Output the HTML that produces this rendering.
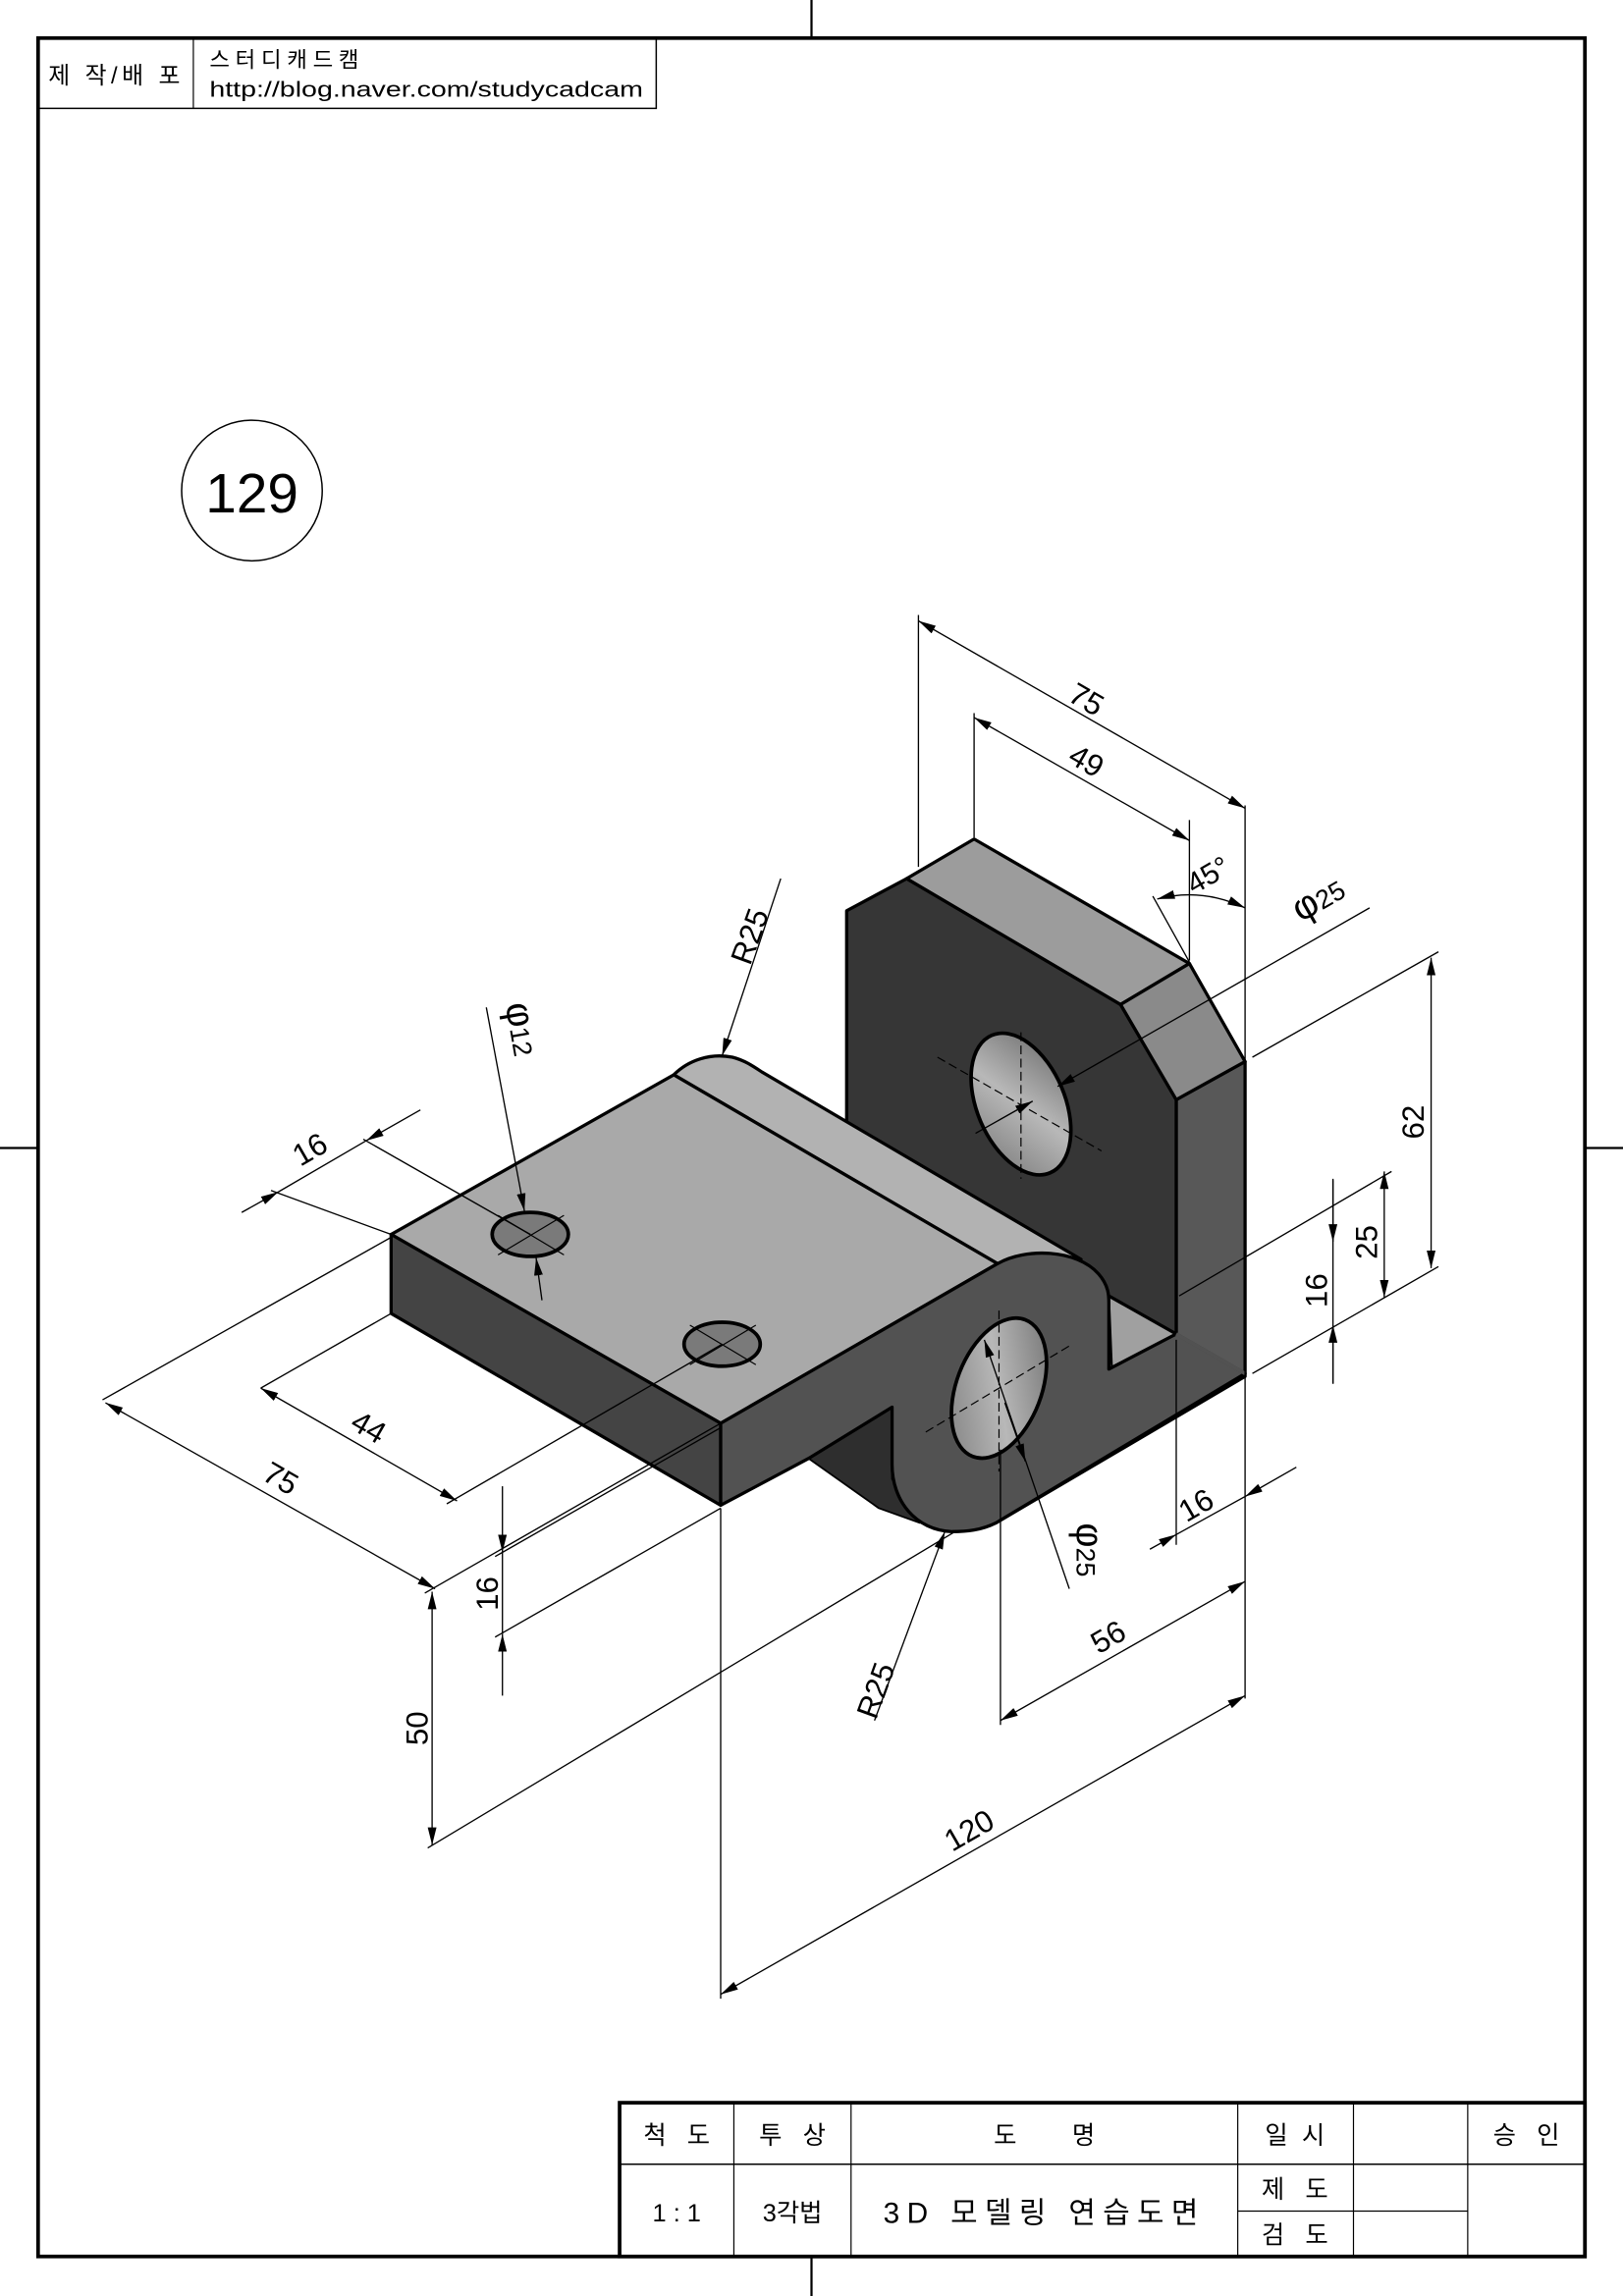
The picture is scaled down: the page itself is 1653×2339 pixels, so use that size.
<!DOCTYPE html>
<html><head><meta charset="utf-8"><style>
html,body{margin:0;padding:0;background:#fff}
svg{display:block}
text{font-family:"Liberation Sans","Noto Sans CJK KR",sans-serif;fill:#000}
</style></head><body>
<svg width="1653" height="2339" viewBox="0 0 1108 1568" preserveAspectRatio="none" xmlns="http://www.w3.org/2000/svg">
<defs>
<marker id="a" viewBox="0 0 12 6" refX="12" refY="3" markerWidth="12" markerHeight="6" markerUnits="userSpaceOnUse" orient="auto-start-reverse"><path d="M0,0 L12,3 L0,6 Z" fill="#000"/></marker>
<linearGradient id="h" x1="0" y1="0" x2="1" y2="1"><stop offset="0" stop-color="#6a6a6a"/><stop offset="0.5" stop-color="#b8b8b8"/><stop offset="1" stop-color="#7a7a7a"/></linearGradient>
</defs>
<!-- frame -->
<rect x="26" y="26" width="1056" height="1515" fill="none" stroke="#000" stroke-width="2.5"/>
<line x1="554" y1="0" x2="554" y2="26" stroke="#000" stroke-width="1.5"/>
<line x1="554" y1="1541" x2="554" y2="1568" stroke="#000" stroke-width="1.5"/>
<line x1="0" y1="784" x2="26" y2="784" stroke="#000" stroke-width="1.5"/>
<line x1="1082" y1="784" x2="1108" y2="784" stroke="#000" stroke-width="1.5"/>
<!-- header -->
<rect x="26" y="26" width="422" height="48" fill="none" stroke="#000" stroke-width="1"/>
<line x1="132" y1="26" x2="132" y2="74" stroke="#000" stroke-width="0.8"/>
<text x="33" y="57" font-size="16" textLength="90" lengthAdjust="spacing">제 작/배 포</text>
<text x="143" y="46" font-size="15" textLength="102" lengthAdjust="spacing">스터디캐드캠</text>
<text x="143" y="66" font-size="15" textLength="296" lengthAdjust="spacingAndGlyphs">http://blog.naver.com/studycadcam</text>
<!-- number circle -->
<circle cx="172" cy="335" r="48" fill="none" stroke="#000" stroke-width="1"/>
<text x="172" y="350" font-size="38" text-anchor="middle">129</text>

<!-- PART -->
<g stroke="#000" stroke-width="2.2" stroke-linejoin="round">
<polygon points="803,751 850,725 850,940 680,1040 650,1046 757,935 803,911" fill="#585858"/>
<polygon points="757,885 803,911 759,934" fill="#a0a0a0" stroke-width="1.5"/>
<polygon points="578,622 619,600 765,686 803,751 803,911 757,885 578,780" fill="#363636"/>
<polygon points="619,600 665,573 812,658 765,686" fill="#9c9c9c"/>
<polygon points="765,686 812,658 850,725 803,751" fill="#8a8a8a"/>
<ellipse cx="697" cy="754" rx="51" ry="30" transform="rotate(67 697 754)" fill="url(#h)" stroke-width="2.5"/>
<path d="M460,734 C470,724 485,719 500,722 C508,724 514,728 520,732 L738,860 L681,863 Z" fill="#b2b2b2"/>
<polygon points="267,843 460,734 681,863 492,972" fill="#a9a9a9"/>
<polygon points="267,843 492,972 492,1028 267,897" fill="#444"/>
<polygon points="552,996 609,961 609,1010 628,1040 600,1030" fill="#2e2e2e" stroke-width="1.2"/>
<path d="M681,863 C700,852 735,853 750,870 C757,878 757,885 757,890 L757,935 L803,911 L850,938 L680,1040 C670,1045 660,1046 650,1046 C625,1045 609,1025 609,1000 L609,961 L552,996 L492,1028 L492,972 Z" fill="#525252"/>
<line x1="803" y1="911" x2="850" y2="938" stroke="#525252" stroke-width="2.5"/>
<ellipse cx="682" cy="948" rx="50" ry="29" transform="rotate(111 682 948)" fill="url(#h)" stroke-width="2.5"/>
<ellipse cx="362" cy="843" rx="26" ry="15" fill="#7a7a7a" stroke-width="2.5"/>
<ellipse cx="493" cy="918" rx="26" ry="15" fill="#7a7a7a" stroke-width="2.5"/>
</g>
<g stroke="#000" stroke-width="0.8" fill="none">
<line x1="340" y1="830" x2="385" y2="857"/><line x1="340" y1="857" x2="385" y2="830"/>
<line x1="471" y1="905" x2="516" y2="932"/><line x1="471" y1="932" x2="516" y2="905"/>
<line x1="697" y1="705" x2="697" y2="805" stroke-dasharray="6,3"/>
<line x1="640" y1="722" x2="752" y2="786" stroke-dasharray="6,3"/>
<line x1="682" y1="895" x2="682" y2="1005" stroke-dasharray="6,3"/>
<line x1="632" y1="978" x2="732" y2="918" stroke-dasharray="6,3"/>
</g>

<!-- DIMENSIONS -->
<g stroke="#000" stroke-width="0.9" fill="none">
<line x1="627" y1="420" x2="627" y2="592"/>
<line x1="850" y1="550" x2="850" y2="1160"/>
<line x1="627" y1="424" x2="850" y2="552" marker-start="url(#a)" marker-end="url(#a)"/>
<line x1="665" y1="487" x2="665" y2="572"/>
<line x1="812" y1="560" x2="812" y2="656"/>
<line x1="665" y1="490" x2="812" y2="574" marker-start="url(#a)" marker-end="url(#a)"/>
<line x1="787" y1="612" x2="812" y2="657"/>
<path d="M790,614 Q820,606 850,620" marker-start="url(#a)" marker-end="url(#a)"/>
<line x1="935" y1="620" x2="722" y2="742" marker-end="url(#a)"/>
<line x1="705" y1="752" x2="666" y2="774" marker-start="url(#a)"/>
<line x1="855" y1="722" x2="982" y2="650"/>
<line x1="855" y1="938" x2="982" y2="865"/>
<line x1="977" y1="654" x2="977" y2="866" marker-start="url(#a)" marker-end="url(#a)"/>
<line x1="805" y1="885" x2="950" y2="800"/>
<line x1="945" y1="800" x2="945" y2="886" marker-start="url(#a)" marker-end="url(#a)"/>
<line x1="910" y1="805" x2="910" y2="945"/>
<line x1="910" y1="806" x2="910" y2="848" marker-end="url(#a)"/>
<line x1="910" y1="945" x2="910" y2="905" marker-end="url(#a)"/>
<line x1="803" y1="915" x2="803" y2="1055"/>
<line x1="785" y1="1058" x2="803" y2="1048" marker-end="url(#a)"/>
<line x1="885" y1="1002" x2="850" y2="1022" marker-end="url(#a)"/>
<line x1="803" y1="1048" x2="850" y2="1022"/>
<line x1="730" y1="1085" x2="672" y2="915" marker-end="url(#a)"/>
<line x1="700" y1="998" x2="686" y2="958" marker-start="url(#a)"/>
<line x1="683" y1="990" x2="683" y2="1178"/>
<line x1="683" y1="1175" x2="850" y2="1080" marker-start="url(#a)" marker-end="url(#a)"/>
<line x1="492" y1="1030" x2="492" y2="1365"/>
<line x1="492" y1="1362" x2="850" y2="1158" marker-start="url(#a)" marker-end="url(#a)"/>
<line x1="597" y1="1175" x2="645" y2="1046" marker-end="url(#a)"/>
<line x1="533" y1="600" x2="493" y2="721" marker-end="url(#a)"/>
<line x1="332" y1="688" x2="358" y2="827" marker-end="url(#a)"/>
<line x1="370" y1="888" x2="366" y2="859" marker-end="url(#a)"/>
<line x1="248" y1="778" x2="362" y2="843"/>
<line x1="185" y1="813" x2="267" y2="843"/>
<line x1="165" y1="828" x2="190" y2="814" marker-end="url(#a)"/>
<line x1="287" y1="758" x2="250" y2="779" marker-end="url(#a)"/>
<line x1="190" y1="814" x2="250" y2="779"/>
<line x1="178" y1="948" x2="267" y2="897"/>
<line x1="305" y1="1027" x2="493" y2="918"/>
<line x1="178" y1="948" x2="312" y2="1025" marker-start="url(#a)" marker-end="url(#a)"/>
<line x1="70" y1="956" x2="267" y2="845"/>
<line x1="290" y1="1088" x2="492" y2="972"/>
<line x1="72" y1="958" x2="297" y2="1085" marker-start="url(#a)" marker-end="url(#a)"/>
<line x1="338" y1="1063" x2="492" y2="975"/>
<line x1="338" y1="1118" x2="492" y2="1030"/>
<line x1="343" y1="1015" x2="343" y2="1060" marker-end="url(#a)"/>
<line x1="343" y1="1158" x2="343" y2="1116" marker-end="url(#a)"/>
<line x1="343" y1="1060" x2="343" y2="1116"/>
<line x1="292" y1="1262" x2="652" y2="1046"/>
<line x1="295" y1="1087" x2="295" y2="1260" marker-start="url(#a)" marker-end="url(#a)"/>
</g>
<g font-size="21">
<text transform="translate(728,478) rotate(30)">75</text>
<text transform="translate(728,520) rotate(30)">49</text>
<text x="815" y="611" font-size="20" transform="rotate(-30 815 611)">45°</text>
<text transform="translate(888,630) rotate(-30)" font-size="26">φ<tspan font-size="18">25</tspan></text>
<text transform="translate(972,778) rotate(-90)">62</text>
<text transform="translate(940,860) rotate(-90)">25</text>
<text transform="translate(906,893) rotate(-90)">16</text>
<text transform="translate(810,1040) rotate(-30)">16</text>
<text transform="translate(735,1040) rotate(90)" font-size="26">φ<tspan font-size="18">25</tspan></text>
<text transform="translate(750,1130) rotate(-30)">56</text>
<text transform="translate(650,1265) rotate(-30)">120</text>
<text transform="translate(598,1175) rotate(-70)">R25</text>
<text transform="translate(512,660) rotate(-70)">R25</text>
<text transform="translate(345,686) rotate(80)" font-size="26">φ<tspan font-size="18">12</tspan></text>
<text transform="translate(205,797) rotate(-30)">16</text>
<text transform="translate(238,975) rotate(30)">44</text>
<text transform="translate(178,1010) rotate(30)">75</text>
<text transform="translate(340,1100) rotate(-90)">16</text>
<text transform="translate(292,1192) rotate(-90)">50</text>
</g>

<!-- title block -->
<g stroke="#000" fill="none">
<rect x="423" y="1436" width="659" height="105" stroke-width="2.5" fill="#fff"/>
<line x1="423" y1="1478" x2="1082" y2="1478" stroke-width="1"/>
<line x1="501" y1="1436" x2="501" y2="1541" stroke-width="0.8"/>
<line x1="581" y1="1436" x2="581" y2="1541" stroke-width="0.8"/>
<line x1="845" y1="1436" x2="845" y2="1541" stroke-width="0.8"/>
<line x1="924" y1="1436" x2="924" y2="1541" stroke-width="0.8"/>
<line x1="1002" y1="1436" x2="1002" y2="1541" stroke-width="0.8"/>
<line x1="845" y1="1510" x2="1002" y2="1510" stroke-width="0.8"/>
</g>
<g font-size="17">
<text x="462" y="1464" text-anchor="middle">척&#160;&#160;&#160;도</text>
<text x="541" y="1464" text-anchor="middle">투&#160;&#160;&#160;상</text>
<text x="713" y="1464" text-anchor="middle">도&#160;&#160;&#160;&#160;&#160;&#160;&#160;&#160;명</text>
<text x="884" y="1464" text-anchor="middle">일&#160;&#160;시</text>
<text x="1042" y="1464" text-anchor="middle">승&#160;&#160;&#160;인</text>
<text x="462" y="1517" text-anchor="middle">1 : 1</text>
<text x="541" y="1517" text-anchor="middle">3각법</text>
<text x="603" y="1518" font-size="20" textLength="215" lengthAdjust="spacing">3D 모델링 연습도면</text>
<text x="884" y="1501" text-anchor="middle">제&#160;&#160;&#160;도</text>
<text x="884" y="1532" text-anchor="middle">검&#160;&#160;&#160;도</text>
</g>
</svg>
</body></html>
